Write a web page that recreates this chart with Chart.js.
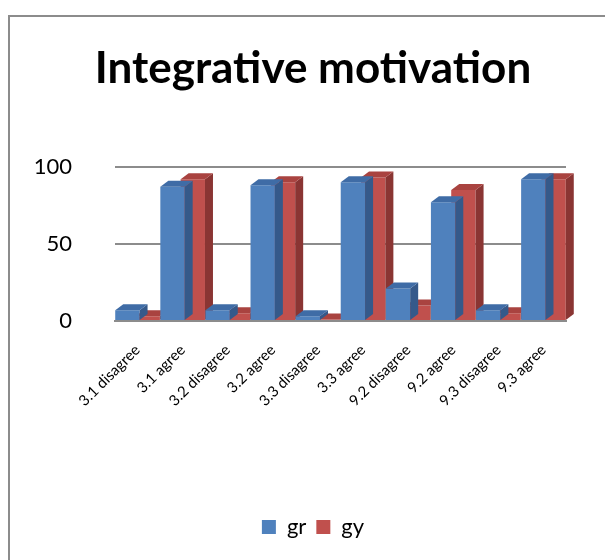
<!DOCTYPE html>
<html>
<head>
<meta charset="utf-8">
<script src="https://cdn.jsdelivr.net/npm/chart.js@4/dist/chart.umd.min.js"></script>
<style>
  html, body { margin: 0; padding: 0; background: #fff; }
  #wrap { position: relative; width: 605px; height: 560px; overflow: hidden; }
  #frame { position: absolute; left: 8px; top: 15px; width: 620px; height: 600px; border: 2px solid #8c8c8c; box-sizing: border-box; }
  #myChart { position: absolute; left: 0; top: 0; }
</style>
</head>
<body>
<div id="wrap">
  <div id="frame"></div>
  <canvas id="myChart" width="605" height="560"></canvas>
</div>
<script>
var categories = ["3.1 disagree", "3.1 agree", "3.2 disagree", "3.2 agree", "3.3 disagree",
                  "3.3 agree", "9.2 disagree", "9.2 agree", "9.3 disagree", "9.3 agree"];
var grValues = [7, 87, 7, 88, 3, 90, 21, 77, 7, 92];
var gyValues = [3, 92, 5, 90, 1, 93, 10, 85, 5, 92];
var yTicks = [0, 50, 100];

var font = "Lato, 'Open Sans', sans-serif";

// Side and top faces so the bars look like Excel's 3D columns.
var depthPlugin = {
  id: 'depth',
  afterDatasetDraw: function(chart, args) {
    var meta = args.meta;
    var ds = chart.data.datasets[args.index];
    var c = chart.ctx;
    var dx = 8, dy = 6;
    c.save();
    meta.data.forEach(function(bar) {
      var left = bar.x - bar.width / 2;
      var right = bar.x + bar.width / 2;
      var top = bar.y, base = bar.base;
      // side
      c.fillStyle = ds.sideColor;
      c.beginPath();
      c.moveTo(right, top);
      c.lineTo(right + dx, top - dy);
      c.lineTo(right + dx, base - dy);
      c.lineTo(right, base);
      c.closePath();
      c.fill();
      // top
      c.fillStyle = ds.topColor;
      c.beginPath();
      c.moveTo(left, top);
      c.lineTo(left + dx, top - dy);
      c.lineTo(right + dx, top - dy);
      c.lineTo(right, top);
      c.closePath();
      c.fill();
    });
    c.restore();
  }
};

var ctx = document.getElementById("myChart");
var myChart = new Chart(ctx, {
  type: 'bar',
  data: {
    labels: categories,
    datasets: [{
      label: 'gr',
      data: grValues,
      backgroundColor: '#4F81BD',
      sideColor: '#35598a',
      topColor: '#3f6ca6'
    }, {
      label: 'gy',
      data: gyValues,
      backgroundColor: '#C0504D',
      sideColor: '#8a3533',
      topColor: '#a94340'
    }]
  },
  plugins: [depthPlugin],
  options: {
    responsive: false,
    animation: false,
    layout: { padding: { left: 30, right: 9, top: 0, bottom: 12 } },
    datasets: {
      bar: { categoryPercentage: 0.9, barPercentage: 1.2 }
    },
    plugins: {
      title: {
        display: true,
        text: 'Integrative motivation',
        color: '#000',
        font: { family: font, size: 44, weight: 'bold' },
        padding: { top: 42, bottom: 72 }
      },
      legend: {
        position: 'bottom',
        labels: {
          color: '#000',
          font: { family: font, size: 22 },
          boxWidth: 14,
          boxHeight: 14,
          padding: 10
        }
      },
      tooltip: { enabled: false }
    },
    scales: {
      x: {
        grid: { display: false, drawTicks: false },
        border: { display: true, color: '#8c8c8c', width: 2 },
        ticks: {
          color: '#000',
          font: { family: font, size: 15 },
          minRotation: 45,
          maxRotation: 45,
          padding: 20
        },
        afterFit: function(scale) { scale.height = 185; }
      },
      y: {
        min: 0,
        max: 100,
        grid: { color: '#8c8c8c', lineWidth: 2, drawTicks: false },
        border: { display: false },
        ticks: {
          color: '#000',
          font: { family: font, size: 22 },
          padding: 43,
          stepSize: 50,
          callback: function(v) { return yTicks.indexOf(v) >= 0 ? v : ''; }
        },
        afterFit: function(scale) { scale.width = 85; }
      },
      // empty right axis, only keeps the plot clear of the right edge
      yRight: {
        position: 'right',
        min: 0,
        max: 100,
        grid: { display: false, drawTicks: false },
        border: { display: false },
        ticks: { display: false },
        afterFit: function(scale) { scale.width = 30; }
      }
    }
  }
});
</script>
</body>
</html>
